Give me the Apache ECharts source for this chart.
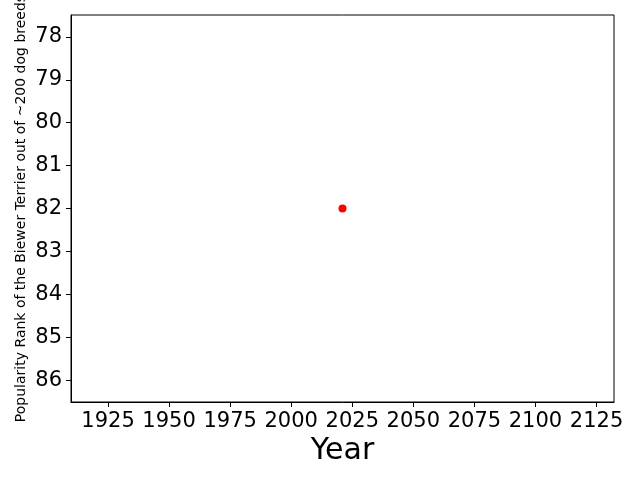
<!DOCTYPE html>
<html>
<head>
<meta charset="utf-8">
<script src="https://cdn.jsdelivr.net/npm/echarts@6/dist/echarts.min.js"></script>
<style>html,body{margin:0;padding:0;background:#fff;}#c{width:640px;height:480px;}</style>
</head>
<body>
<div id="c"></div>
<script>
const years = [2021];
const ranks = [82];
const xTicks = [1925, 1950, 1975, 2000, 2025, 2050, 2075, 2100, 2125];
const yTicks = [78, 79, 80, 81, 82, 83, 84, 85, 86];
const xLabel = 'Year';
const yLabel = 'Popularity Rank of the Biewer Terrier out of ~200 dog breeds';

const chart = echarts.init(document.getElementById('c'), null, {renderer: 'canvas'});
const font = 'DejaVu Sans';
chart.setOption({
  animation: false,
  backgroundColor: '#ffffff',
  textStyle: {fontFamily: font},
  grid: {left: 71, right: 26, top: 15, bottom: 78, show: true, borderColor: '#000', borderWidth: 1, containLabel: false, outerBoundsMode: 'none'},
  xAxis: {
    type: 'value',
    min: 1909.845, max: 2132.155,
    name: xLabel, nameLocation: 'middle', nameGap: 34, nameMoveOverlap: false,
    nameTextStyle: {fontSize: 30, color: '#000', fontFamily: font},
    axisLine: {show: true, onZero: false, lineStyle: {color: '#000', width: 1}},
    axisTick: {show: true, inside: false, length: 5, lineStyle: {color: '#000'}, customValues: xTicks},
    axisLabel: {fontSize: 21, color: '#000', margin: 9, fontFamily: font, customValues: xTicks, formatter: v => String(v)},
    splitLine: {show: false}
  },
  yAxis: {
    type: 'value',
    inverse: true,
    min: 77.49, max: 86.51,
    name: yLabel, nameLocation: 'middle', nameGap: 43, nameMoveOverlap: false,
    nameTextStyle: {fontSize: 14, color: '#000', fontFamily: font},
    axisLine: {show: true, onZero: false, lineStyle: {color: '#000', width: 1}},
    axisTick: {show: true, inside: false, length: 5, lineStyle: {color: '#000'}, customValues: yTicks},
    axisLabel: {fontSize: 21, color: '#000', margin: 9, fontFamily: font, customValues: yTicks, formatter: v => String(v)},
    splitLine: {show: false}
  },
  series: [{
    type: 'scatter',
    data: years.map((y, i) => [y, ranks[i]]),
    symbol: 'circle',
    symbolSize: 8,
    itemStyle: {color: '#ff0000', opacity: 1}
  }]
});
</script>
</body>
</html>
